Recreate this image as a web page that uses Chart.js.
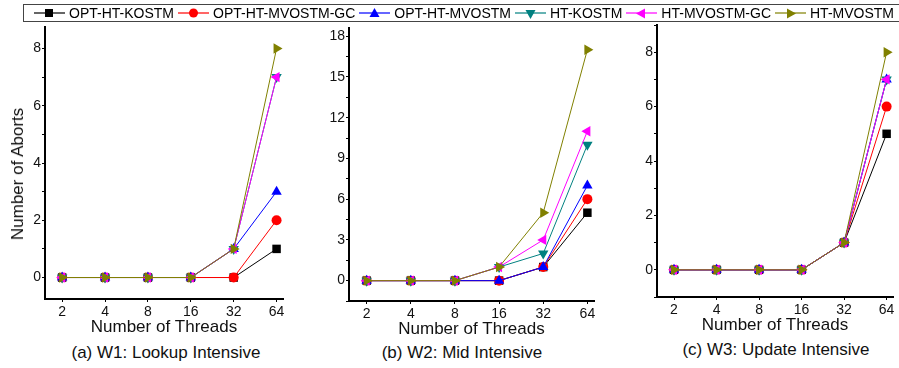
<!DOCTYPE html>
<html>
<head>
<meta charset="utf-8">
<script src="https://cdn.jsdelivr.net/npm/chart.js@4"></script>
<style>
  body { margin: 0; background: #fff; font-family: "Liberation Sans", Arial, sans-serif; }
  #wrap { position: relative; width: 899px; height: 368px; overflow: hidden; }
  canvas { position: absolute; top: 0; }
  .legend { position: absolute; left: 23px; top: 4px; width: 890px; height: 16px; border: 1px solid #444;
            display: flex; align-items: center; padding-left: 10px; font-size: 14px; white-space: nowrap; color: #000; }
  .item { display: flex; align-items: center; margin-right: 4px; }
  .item svg { margin-right: 4px; }
  .caption { position: absolute; font-size: 17px; line-height: 20px; transform: translateX(-50%); white-space: nowrap; color: #111; }
  .ytitle { position: absolute; left: 18px; top: 174px; font-size: 17px; line-height: 20px; white-space: nowrap; color: #111;
            transform: translate(-50%, -50%) rotate(-90deg); }
</style>
</head>
<body>
<div id="wrap">
  <canvas id="w1"></canvas>
  <canvas id="w2"></canvas>
  <canvas id="w3"></canvas>
  <div class="legend" id="legend"></div>
  <div class="ytitle">Number of Aborts</div>
  <div class="caption" style="left:166px;top:343px">(a) W1: Lookup Intensive</div>
  <div class="caption" style="left:462px;top:343px">(b) W2: Mid Intensive</div>
  <div class="caption" style="left:776px;top:340px">(c) W3: Update Intensive</div>
</div>
<script>
// data
const threads = ["2", "4", "8", "16", "32", "64"];
const seriesNames = ["OPT-HT-KOSTM", "OPT-HT-MVOSTM-GC", "OPT-HT-MVOSTM", "HT-KOSTM", "HT-MVOSTM-GC", "HT-MVOSTM"];

// rows follow seriesNames
const w1Aborts = [
  [0, 0, 0, 0, 0, 1],
  [0, 0, 0, 0, 0, 2],
  [0, 0, 0, 0, 1, 3],
  [0, 0, 0, 0, 1, 7],
  [0, 0, 0, 0, 1, 7],
  [0, 0, 0, 0, 1, 8]
];
const w2Aborts = [
  [0, 0, 0, 0, 1, 5],
  [0, 0, 0, 0, 1, 6],
  [0, 0, 0, 0, 1, 7],
  [0, 0, 0, 1, 2, 10],
  [0, 0, 0, 1, 3, 11],
  [0, 0, 0, 1, 5, 17]
];
const w3Aborts = [
  [0, 0, 0, 0, 1, 5],
  [0, 0, 0, 0, 1, 6],
  [0, 0, 0, 0, 1, 7],
  [0, 0, 0, 0, 1, 7],
  [0, 0, 0, 0, 1, 7],
  [0, 0, 0, 0, 1, 8]
];

// styles
const colors = ["#000000", "#ff0000", "#0000ff", "#008080", "#ff00ff", "#808000"];
const shapes = ["rect", "circle", "triangle", "triangle", "triangle", "triangle"];
const rotations = [0, 0, 0, 180, 270, 90];
const radii = [6, 5, 6, 6, 6, 6];

// legend
const legend = document.getElementById("legend");
seriesNames.forEach((name, i) => {
  const item = document.createElement("div");
  item.className = "item";
  const c = colors[i];
  let mark;
  if (shapes[i] === "rect") mark = `<rect x="11" y="4" width="8" height="8" fill="${c}"/>`;
  else if (shapes[i] === "circle") mark = `<circle cx="15.5" cy="8" r="4.5" fill="${c}"/>`;
  else mark = `<polygon points="15.5,3 20.5,12 10.5,12" fill="${c}" transform="rotate(${rotations[i]} 15.5 8.5)"/>`;
  item.innerHTML = `<svg width="31" height="16"><line x1="0" y1="8" x2="31" y2="8" stroke="${c}" stroke-width="1.2"/>${mark}</svg><span>${name}</span>`;
  legend.appendChild(item);
});

function makePanel(id, p) {
  const canvas = document.getElementById(id);
  canvas.width = p.width;
  canvas.height = p.height;
  canvas.style.left = p.left + "px";
  canvas.style.width = p.width + "px";
  canvas.style.height = p.height + "px";

  const datasets = seriesNames.map((name, i) => ({
    label: name,
    data: p.rows[i].map((v, j) => ({ x: j + 1, y: v })),
    borderColor: colors[i],
    backgroundColor: colors[i],
    borderWidth: 1,
    pointStyle: shapes[i],
    rotation: rotations[i],
    pointRadius: radii[i],
    pointBorderWidth: 0,
    order: seriesNames.length - i,
    fill: false,
    tension: 0
  }));

  new Chart(canvas, {
    type: "line",
    data: { datasets },
    options: {
      responsive: false,
      animation: false,
      layout: { padding: { top: p.chartTop, right: p.width - p.chartRight, left: 0, bottom: 0 } },
      plugins: { legend: { display: false }, tooltip: { enabled: false } },
      scales: {
        x: {
          type: "linear",
          min: 0.6,
          max: 6.15,
          afterFit: s => { s.height = p.height - p.chartBottom; },
          border: { display: true, color: "#000", width: 2 },
          grid: { display: true, drawOnChartArea: false, tickLength: 3, color: "#000" },
          ticks: {
            stepSize: 1,
            includeBounds: false,
            autoSkip: false,
            maxRotation: 0,
            padding: 2,
            color: "#111",
            font: { family: "Liberation Sans", size: 14 },
            callback: v => threads[v - 1] || ""
          },
          title: {
            display: true,
            text: "Number of Threads",
            color: "#111",
            font: { family: "Liberation Sans", size: 17 },
            padding: { top: 0, bottom: p.xTitlePad }
          }
        },
        y: {
          min: p.yMin,
          max: p.yMax,
          afterFit: s => { s.width = p.chartLeft - p.left; },
          border: { display: true, color: "#000", width: 2 },
          grid: { display: true, drawOnChartArea: false, tickLength: 3, color: "#000" },
          ticks: {
            stepSize: p.yStep,
            includeBounds: false,
            autoSkip: false,
            maxTicksLimit: 100,
            padding: 1,
            color: "#111",
            font: { family: "Liberation Sans", size: 14 },
            callback: v => (v >= 0 && Math.abs(v % p.labelStep) < 1e-6) ? v : ""
          }
        }
      }
    }
  });
}

makePanel("w1", { left: 0, width: 300, height: 341, chartLeft: 45, chartRight: 283, chartTop: 27, chartBottom: 299,
  yMin: -0.75, yMax: 8.75, yStep: 1, labelStep: 2, rows: w1Aborts, xTitlePad: 3 });
makePanel("w2", { left: 300, width: 300, height: 343, chartLeft: 349, chartRight: 592, chartTop: 28, chartBottom: 301,
  yMin: -1.5, yMax: 18.6, yStep: 1.5, labelStep: 3, rows: w2Aborts, xTitlePad: 3 });
makePanel("w3", { left: 600, width: 299, height: 339, chartLeft: 657, chartRight: 895, chartTop: 25, chartBottom: 297,
  yMin: -1, yMax: 9, yStep: 1, labelStep: 2, rows: w3Aborts, xTitlePad: 3 });
</script>
</body>
</html>
